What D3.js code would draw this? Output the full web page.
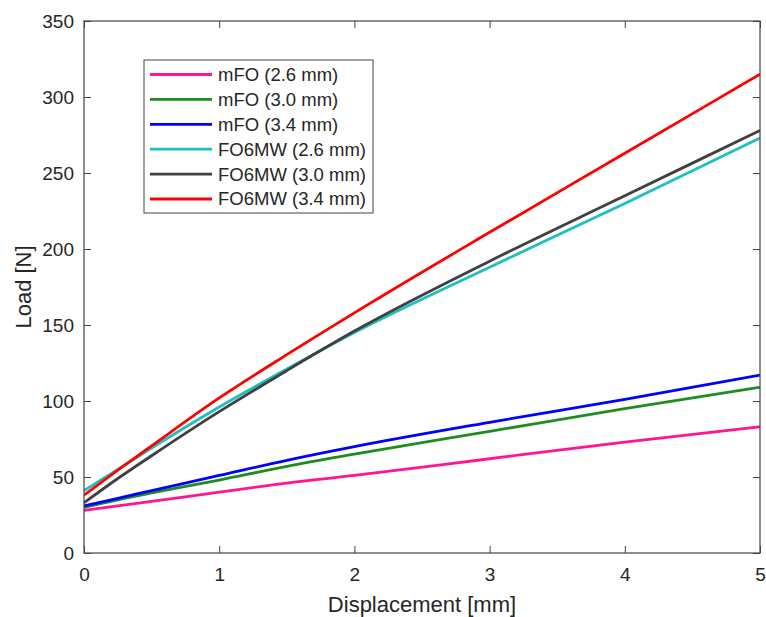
<!DOCTYPE html>
<html>
<head>
<meta charset="utf-8">
<script src="https://cdn.jsdelivr.net/npm/d3@7"></script>
<style>
  body { margin: 0; background: #fff; }
  text { font-family: "Liberation Sans", Arial, sans-serif; fill: #262626; }
</style>
</head>
<body>
<svg id="chart" width="766" height="617"></svg>
<script>
// displacement samples [mm]
const displacement = [0, 0.25, 0.5, 1, 1.5, 2, 3, 4, 5];

// load curves [N]
const mFO26   = [28, 31, 34, 40, 46, 51, 62, 73, 83];
const mFO30   = [30, 35, 39.5, 48, 57, 65, 80, 95, 109];
const mFO34   = [31, 36, 41, 51, 61, 70, 86, 101, 117];
const FO6MW26 = [41, 55, 69, 96, 121, 145, 188, 230, 273];
const FO6MW30 = [33, 49, 64, 93, 120, 146, 192, 235, 278];
const FO6MW34 = [38, 54.5, 70.5, 102, 130.5, 158, 211, 263, 315];

const seriesNames = ["mFO (2.6 mm)", "mFO (3.0 mm)", "mFO (3.4 mm)",
                     "FO6MW (2.6 mm)", "FO6MW (3.0 mm)", "FO6MW (3.4 mm)"];
const seriesValues = [mFO26, mFO30, mFO34, FO6MW26, FO6MW30, FO6MW34];
const seriesColors = ["#ff1493", "#1f8c1f", "#0000ff", "#1fbfbf", "#404040", "#ff0000"];

const xTicks = [0, 1, 2, 3, 4, 5];
const yTicks = [0, 50, 100, 150, 200, 250, 300, 350];

const margin = { left: 84, top: 21, right: 6, bottom: 64 };
const width = 766, height = 617;
const plotW = width - margin.left - margin.right;
const plotH = height - margin.top - margin.bottom;

const svg = d3.select("#chart");
const g = svg.append("g").attr("transform", `translate(${margin.left},${margin.top})`);

const x = d3.scaleLinear().domain([0, 5]).range([0, plotW]);
const y = d3.scaleLinear().domain([0, 350]).range([plotH, 0]);

// Lines (clipped to the plot box)
svg.append("defs").append("clipPath").attr("id", "clip")
  .append("rect").attr("width", plotW).attr("height", plotH);

const line = d3.line()
  .curve(d3.curveMonotoneX)
  .x((d, i) => x(displacement[i]))
  .y(d => y(d));

g.append("g")
  .attr("clip-path", "url(#clip)")
  .selectAll("path")
  .data(seriesValues)
  .enter()
  .append("path")
  .attr("d", d => line(d))
  .attr("fill", "none")
  .attr("stroke-width", 2.8)
  .style("stroke", (d, i) => seriesColors[i]);

// Axes, MATLAB style: box with inward ticks on all sides
const tickLen = 7;
const axisColor = "#444";

function styleAxis(sel) {
  sel.select(".domain").remove();
  sel.selectAll(".tick line").attr("stroke", axisColor);
  sel.selectAll(".tick text").style("font-size", "19px").attr("fill", "#262626");
}

g.append("g")
  .attr("transform", `translate(0,${plotH})`)
  .call(d3.axisBottom(x).tickValues(xTicks).tickSize(-tickLen).tickPadding(15).tickFormat(d3.format("d")))
  .call(styleAxis);

g.append("g")
  .call(d3.axisLeft(y).tickValues(yTicks).tickSize(-tickLen).tickPadding(10).tickFormat(d3.format("d")))
  .call(styleAxis);

g.append("g")
  .call(d3.axisTop(x).tickValues(xTicks).tickSize(-tickLen).tickFormat(""))
  .call(styleAxis);

g.append("g")
  .attr("transform", `translate(${plotW},0)`)
  .call(d3.axisRight(y).tickValues(yTicks).tickSize(-tickLen).tickFormat(""))
  .call(styleAxis);

g.append("rect")
  .attr("width", plotW)
  .attr("height", plotH)
  .attr("fill", "none")
  .attr("stroke", axisColor)
  .attr("stroke-width", 1.2);

// Axis titles
svg.append("text")
  .attr("x", margin.left + plotW / 2)
  .attr("y", 612)
  .attr("text-anchor", "middle")
  .style("font-size", "22px")
  .text("Displacement [mm]");

svg.append("text")
  .attr("transform", `translate(31,${margin.top + plotH / 2}) rotate(-90)`)
  .attr("text-anchor", "middle")
  .style("font-size", "22px")
  .text("Load [N]");

// Legend
const legend = svg.append("g").attr("transform", "translate(144,60)");
legend.append("rect")
  .attr("width", 229)
  .attr("height", 153)
  .attr("fill", "#fff")
  .attr("stroke", axisColor)
  .attr("stroke-width", 1);

const items = legend.selectAll("g.item")
  .data(seriesNames)
  .enter()
  .append("g")
  .attr("class", "item")
  .attr("transform", (d, i) => `translate(0,${14.5 + i * 24.9})`);

items.append("line")
  .attr("x1", 6).attr("x2", 68)
  .attr("stroke-width", 2.8)
  .style("stroke", (d, i) => seriesColors[i]);

items.append("text")
  .attr("x", 74)
  .attr("dy", "0.35em")
  .style("font-size", "18.5px")
  .text(d => d);
</script>
</body>
</html>
